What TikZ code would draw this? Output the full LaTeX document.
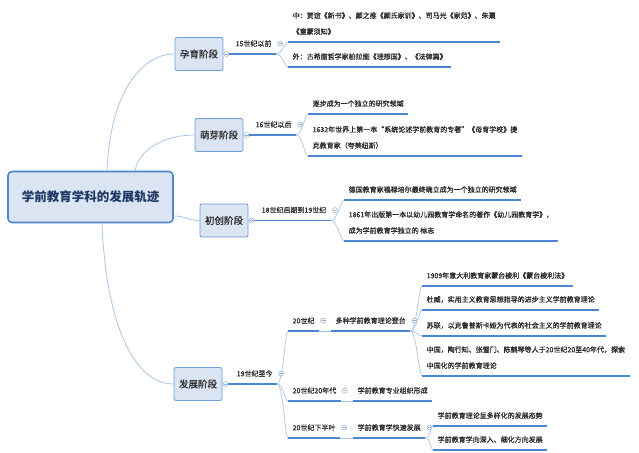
\documentclass[tikz,border=0pt]{standalone}
\usepackage{fontspec}
\setmainfont{Noto Sans CJK SC}
\newfontfamily\topicfont{Noto Sans CJK SC}[FakeBold=0.9]
\definecolor{fillc}{HTML}{DAE4F3}
\definecolor{rootc}{HTML}{4F86C9}
\definecolor{roottext}{HTML}{1F3864}
\definecolor{stagec}{HTML}{6C9FDC}
\definecolor{textc}{HTML}{2B2B2B}
\definecolor{ulc}{HTML}{4B87D1}
\definecolor{lightc}{HTML}{A9C5EB}
\definecolor{btnc}{HTML}{8EAAD0}
\begin{document}
\begin{tikzpicture}[x=1pt,y=-1pt,
  rootbox/.style={draw=rootc, line width=1.6pt, fill=fillc, rounded corners=4pt,
    minimum width=165pt, minimum height=51pt,
    font=\fontsize{12.5}{14}\selectfont\bfseries, text=roottext},
  stagebox/.style={draw=stagec, line width=0.8pt, fill=fillc, rounded corners=2pt,
    minimum width=48pt, minimum height=33pt,
    font=\topicfont\fontsize{9.5}{11}\selectfont, text=textc},
  topic/.style={anchor=south west, inner xsep=4.5pt, inner ysep=7pt,
    font=\topicfont\fontsize{7}{16}\selectfont, text=textc, align=left},
  uline/.style={draw=ulc, line width=1.5pt},
  branch/.style={draw=lightc, line width=0.7pt},
  trunk/.style={draw=lightc, line width=0.8pt},
  btn/.style={circle, draw=btnc, fill=white, minimum size=5pt, inner sep=0pt, line width=0.5pt,
    path picture={\draw[btnc, line width=0.5pt] ([xshift=-1.4pt]path picture bounding box.center) -- ([xshift=1.4pt]path picture bounding box.center);}}
]
\fill[white] (0,0) rectangle (639,452);
\useasboundingbox (0,0) rectangle (639,452);

% root and stages
\node[rootbox] (root) at (90.5,197) {学前教育学科的发展轨迹};
\node[stagebox] (yun)  at (199,54)  {孕育阶段};
\node[stagebox] (meng) at (219,135) {萌芽阶段};
\node[stagebox] (chu)  at (224,220.5) {初创阶段};
\node[stagebox] (fa)   at (198,384) {发展阶段};

\draw[trunk] ([xshift=16.5pt]root.north) .. controls +(3,-75) and +(-35,0) .. (yun.west);
\draw[trunk] ([xshift=44.5pt]root.north) .. controls +(5,-25) and +(-25,0) .. (meng.west);
\draw[trunk] ([yshift=-19pt]root.east) .. controls +(12,0) and +(-12,0) .. (chu.west);
\draw[trunk] ([xshift=11.5pt]root.south) .. controls +(4,100) and +(-40,0) .. (fa.west);

% ---------- 孕育阶段
\node[topic] (l1) at (231,54) {15世纪以前};
\node[topic] (c11) at (288,42) {中：贾谊《新书》、颜之推《颜氏家训》、司马光《家范》、朱熹\\《童蒙须知》};
\node[topic] (c12) at (288,67) {外：古希腊哲学家柏拉图《理想国》、《法律篇》};
\node[btn] (yunb) at ([xshift=3pt]yun.east) {};
\draw[uline] (yunb) -- (l1.south west) -- (l1.south east);
\foreach \c in {c11,c12} {
  \draw[branch] (l1.south east) .. controls +(6,0) and +(-3,0) .. (\c.south west);
  \draw[uline] (\c.south west) -- (\c.south east);
}
\node[btn] (l1b) at ([xshift=4pt]l1.east) {};

% ---------- 萌芽阶段
\node[topic] (l2) at (251,135) {16世纪以后};
\node[topic] (c21) at (308,114) {逐步成为一个独立的研究领域};
\node[topic] (c22) at (308,156) {1632年世界上第一本“系统论述学前教育的专著”《母育学校》捷\\克教育家（夸美纽斯）};
\node[btn] (mengb) at ([xshift=3pt]meng.east) {};
\draw[uline] (mengb) -- (l2.south west) -- (l2.south east);
\foreach \c in {c21,c22} {
  \draw[branch] (l2.south east) .. controls +(6,0) and +(-3,0) .. (\c.south west);
  \draw[uline] (\c.south west) -- (\c.south east);
}
\node[btn] (l2b) at ([xshift=4pt]l2.east) {};

% ---------- 初创阶段
\node[topic] (l3) at (257,220.5) {18世纪后期到19世纪};
\node[topic] (c31) at (344,200) {德国教育家福禄培尔最终确立成为一个独立的研究领域};
\node[topic] (c32) at (344,241) {1861年出版第一本以幼儿园教育学命名的著作《幼儿园教育学》，\\成为学前教育学独立的 标志};
\node[btn] (chub) at ([xshift=3pt]chu.east) {};
\draw[uline] (chub) -- (l3.south west) -- (l3.south east);
\foreach \c in {c31,c32} {
  \draw[branch] (l3.south east) .. controls +(6,0) and +(-3,0) .. (\c.south west);
  \draw[uline] (\c.south west) -- (\c.south east);
}
\node[btn] (l3b) at ([xshift=4pt]l3.east) {};

% ---------- 发展阶段
\node[topic] (l4) at (232,384) {19世纪至今};
\node[topic] (c41) at (288,331) {20世纪};
\node[topic] (c42) at (288,401) {20世纪20年代};
\node[topic] (c43) at (288,438) {20世纪下半叶};
\node[btn] (fab) at ([xshift=3pt]fa.east) {};
\draw[uline] (fab) -- (l4.south west) -- (l4.south east);
\foreach \c in {c41,c42,c43} {
  \draw[branch] (l4.south east) .. controls +(6,0) and +(-3,0) .. (\c.south west);
  \draw[uline] (\c.south west) -- (\c.south east);
}
\node[btn] (l4b) at ([xshift=4pt]l4.east) {};

\node[topic] (c41a) at (331,331) {多种学前教育理论登台};
\node[topic] (c42a) at (353,401) {学前教育专业组织形成};
\node[topic] (c43a) at (353,438) {学前教育学快速发展};
\draw[branch] (c41.south east) -- (c41a.south west);
\draw[branch] (c42.south east) -- (c42a.south west);
\draw[branch] (c43.south east) -- (c43a.south west);
\foreach \c in {c41a,c42a,c43a} {\draw[uline] (\c.south west) -- (\c.south east);}
\node[btn] (c41b) at ([xshift=4pt]c41.east) {};
\node[btn] (c42b) at ([xshift=4pt]c42.east) {};
\node[btn] (c43b) at ([xshift=4pt]c43.east) {};

\node[topic] (d1) at (422,286) {1909年意大利教育家蒙台梭利《蒙台梭利法》};
\node[topic] (d2) at (422,310) {杜威，实用主义教育思想指导的进步主义学前教育理论};
\node[topic] (d3) at (422,336) {苏联，以克鲁普斯卡娅为代表的社会主义的学前教育理论};
\node[topic] (d4) at (422,376) {中国，陶行知、张雪门、陈鹤琴等人于20世纪20至40年代，探索\\中国化的学前教育理论};
\foreach \c in {d1,d2,d3,d4} {
  \draw[branch] (c41a.south east) .. controls +(6,0) and +(-3,0) .. (\c.south west);
  \draw[uline] (\c.south west) -- (\c.south east);
}
\node[btn] (c41ab) at ([xshift=4pt]c41a.east) {};

\node[topic] (e1) at (433,426) {学前教育理论呈多样化的发展态势};
\node[topic] (e2) at (433,450) {学前教育学向深入、细化方向发展};
\foreach \c in {e1,e2} {
  \draw[branch] (c43a.south east) .. controls +(6,0) and +(-3,0) .. (\c.south west);
  \draw[uline] (\c.south west) -- (\c.south east);
}
\node[btn] (c43ab) at ([xshift=4pt]c43a.east) {};
\end{tikzpicture}
\end{document}
